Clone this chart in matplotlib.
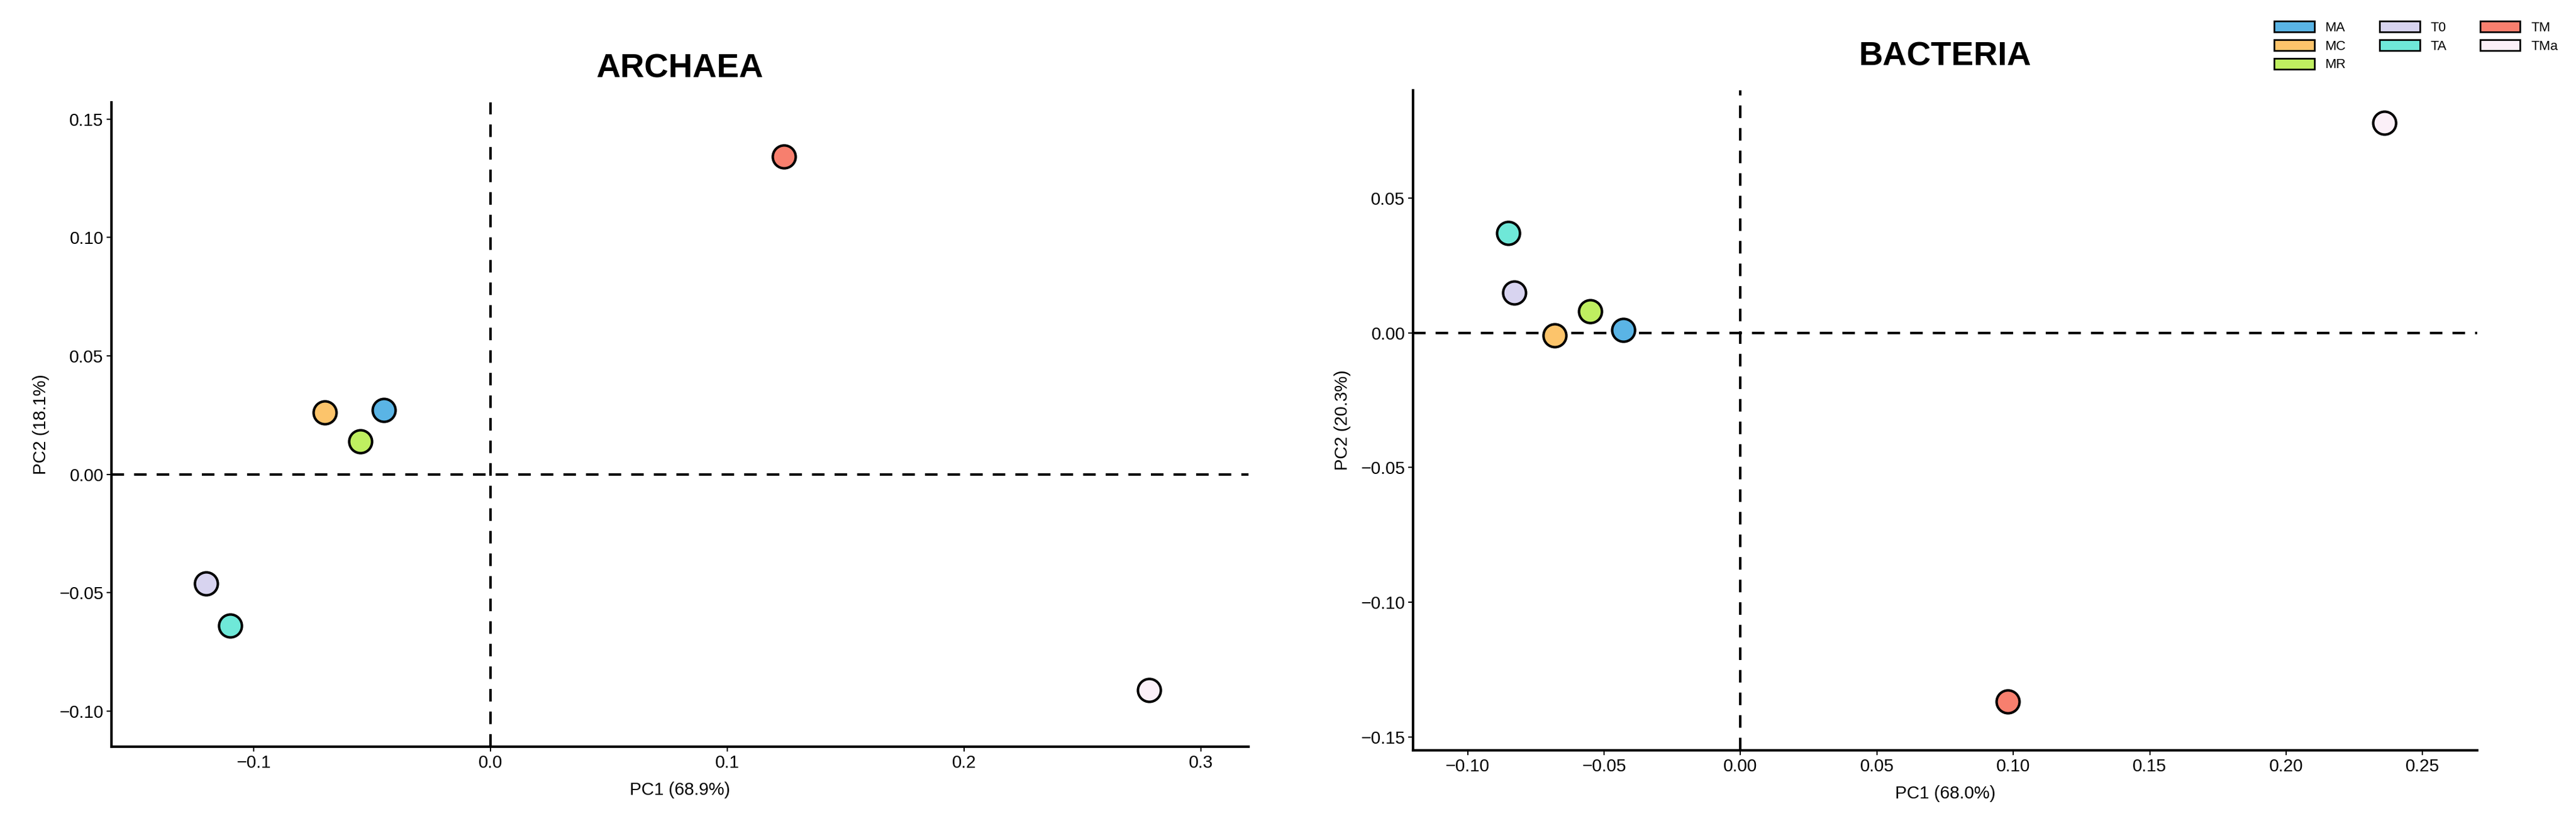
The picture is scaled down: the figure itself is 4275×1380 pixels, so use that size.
import matplotlib
matplotlib.use("Agg")
import matplotlib.pyplot as plt
from matplotlib.patches import Patch

groups = ["MA", "MC", "MR", "T0", "TA", "TM", "TMa"]
colors = ["#5ab4e5", "#fcc46b", "#bfef60", "#d8d4f0", "#6fe8d8", "#f77f6e", "#fbf0f8"]
arch_pc1 = [-0.045, -0.070, -0.055, -0.120, -0.110, 0.124, 0.278]
arch_pc2 = [0.027, 0.026, 0.014, -0.046, -0.064, 0.134, -0.091]
bact_pc1 = [-0.043, -0.068, -0.055, -0.083, -0.085, 0.098, 0.236]
bact_pc2 = [0.001, -0.001, 0.008, 0.015, 0.037, -0.137, 0.078]

plt.rcParams['font.family'] = ['Liberation Sans', 'DejaVu Sans']
fig = plt.figure(figsize=(42.75, 13.8), dpi=100)
ax1 = fig.add_axes([185/4275, 1-1240/1380, (2072-185)/4275, (1240-170)/1380])
ax2 = fig.add_axes([2345/4275, 1-1246/1380, (4111-2345)/4275, (1246-150)/1380])

def draw(ax, xs, ys, title, xl, yl, xlim, ylim, xt, yt, xfmt, yfmt):
    ax.axhline(0, color="black", ls=(0, (5, 4)), lw=3, zorder=1)
    ax.axvline(0, color="black", ls=(0, (5, 4)), lw=3, zorder=1)
    for x, y, c in zip(xs, ys, colors):
        ax.scatter(x, y, s=750, color=c, edgecolor="black", linewidth=3, zorder=3)
    ax.set_xlim(*xlim); ax.set_ylim(*ylim)
    ax.set_xticks(xt); ax.set_yticks(yt)
    ax.set_xticklabels([xfmt(v) for v in xt]); ax.set_yticklabels([yfmt(v) for v in yt])
    ax.tick_params(labelsize=21, length=6, width=1.5)
    for s in ["top", "right"]:
        ax.spines[s].set_visible(False)
    for s in ["left", "bottom"]:
        ax.spines[s].set_linewidth(3)
    ax.set_title(title, fontsize=40, fontweight="bold", pad=30)
    ax.set_xlabel(xl, fontsize=21, labelpad=12)
    ax.set_ylabel(yl, fontsize=21, labelpad=12)

m = lambda v: f"{v:.1f}".replace("-", "\u2212")
m2 = lambda v: f"{v:.2f}".replace("-", "\u2212")
draw(ax1, arch_pc1, arch_pc2, "ARCHAEA", "PC1 (68.9%)", "PC2 (18.1%)",
     (-0.16, 0.32), (-0.115, 0.157), [-0.1, 0.0, 0.1, 0.2, 0.3],
     [-0.10, -0.05, 0.0, 0.05, 0.10, 0.15], m, m2)
draw(ax2, bact_pc1, bact_pc2, "BACTERIA", "PC1 (68.0%)", "PC2 (20.3%)",
     (-0.12, 0.27), (-0.155, 0.09), [-0.10, -0.05, 0.0, 0.05, 0.10, 0.15, 0.20, 0.25],
     [-0.15, -0.10, -0.05, 0.0, 0.05], m2, m2)

handles = [Patch(facecolor=c, edgecolor="black", linewidth=2, label=g) for g, c in zip(groups, colors)]
blank = Patch(facecolor="none", edgecolor="none", label="")
order = handles[:3] + handles[3:5] + [blank] + handles[5:] + [blank]
fig.legend(handles=order, labels=[h.get_label() for h in order], ncol=3,
           loc="upper right", bbox_to_anchor=(4265/4275, 1-15/1380), frameon=False,
           fontsize=16, handlelength=3, handleheight=0.9, columnspacing=2.5, labelspacing=0.4)

fig.savefig("out.png", dpi=100)
